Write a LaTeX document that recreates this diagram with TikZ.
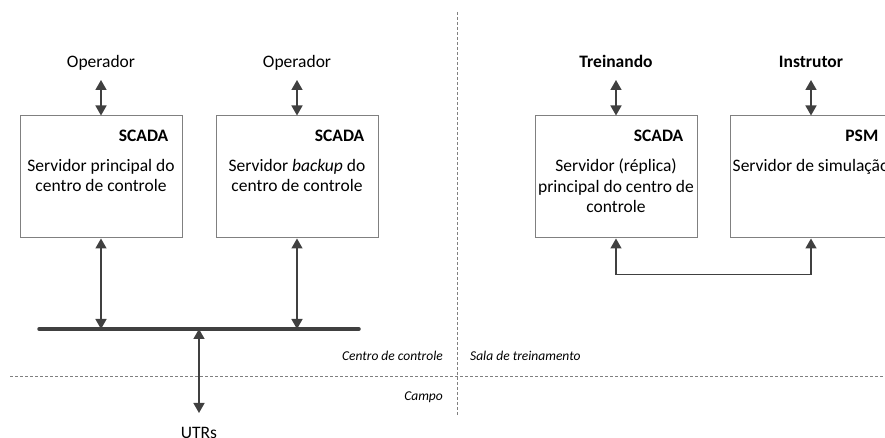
\documentclass[tikz,border=0pt]{standalone}
\usepackage{fontspec}
\setmainfont{Carlito}
\usetikzlibrary{arrows.meta}
\definecolor{linegray}{HTML}{404040}
\definecolor{boxgray}{HTML}{808080}
\begin{document}
\begin{tikzpicture}[x=1pt,y=1pt,
    server/.style={draw=boxgray, line width=1pt, minimum width=162pt, minimum height=122pt, inner sep=0pt},
    tag/.style={font=\fontsize{17.5}{20.5}\selectfont\bfseries, inner sep=0pt, anchor=north east},
    desc/.style={font=\fontsize{17.5}{20.5}\selectfont, align=center, anchor=north},
    actor/.style={font=\fontsize{17.5}{20.5}\selectfont, inner xsep=0pt, inner ysep=8pt, text depth=4pt, anchor=south},
    area/.style={font=\fontsize{13.5}{16}\selectfont\itshape, inner sep=0pt},
    link/.style={draw=linegray, line width=1.5pt, {Triangle[length=10pt,width=11pt]}-{Triangle[length=10pt,width=11pt]}},
    zone/.style={draw=boxgray, dash pattern=on 3pt off 2pt, line width=0.8pt}]
    \clip (0,0) rectangle (885,438);
    % areas
    \draw[zone] (10,62) -- (885,62);
    \draw[zone] (457,426) -- (457,23);
    \node[area, anchor=east] (cc) at (443,82) {Centro de controle};
    \node[area, anchor=west] (sala) at (470,82) {Sala de treinamento};
    \node[area, anchor=east] (campo) at (443,41) {Campo};
    % centro de controle
    \node[server] (scadaP) at (101,261) {};
    \node[server] (scadaB) at (297,261) {};
    \node[tag] (tagP) at ([shift={(-14pt,-14.5pt)}]scadaP.north east) {SCADA};
    \node[tag] (tagB) at ([shift={(-14pt,-14.5pt)}]scadaB.north east) {SCADA};
    \node[desc] (descP) at ([yshift=-40pt]scadaP.north) {Servidor principal do\\centro de controle};
    \node[desc] (descB) at ([yshift=-40pt]scadaB.north) {Servidor \textit{backup} do\\centro de controle};
    \node[actor] (op1) at (101,358) {Operador};
    \node[actor] (op2) at (297,358) {Operador};
    \draw[link] (op1) -- (scadaP);
    \draw[link] (op2) -- (scadaB);
    \draw[draw=linegray, line width=3.5pt, line cap=round] (39,109) coordinate (busL) -- (359,109) coordinate (busR);
    \draw[link] (scadaP) -- (scadaP |- busL);
    \draw[link] (scadaB) -- (scadaB |- busL);
    \node[actor, anchor=north, inner ysep=14pt] (utr) at (199,25) {UTRs};
    \draw[link] (utr |- busL) -- (utr);
    % sala de treinamento
    \node[server] (scadaR) at (616,261) {};
    \node[server] (psm) at (811,261) {};
    \node[tag] (tagR) at ([shift={(-14pt,-14.5pt)}]scadaR.north east) {SCADA};
    \node[tag] (tagS) at ([shift={(-14pt,-14.5pt)}]psm.north east) {PSM};
    \node[desc] (descR) at ([yshift=-40pt]scadaR.north) {Servidor (réplica)\\principal do centro de\\controle};
    \node[desc] (descS) at ([yshift=-40pt]psm.north) {Servidor de simulação};
    \node[actor, font=\fontsize{17.5}{20.5}\selectfont\bfseries] (trainee) at (616,358) {Treinando};
    \node[actor, font=\fontsize{17.5}{20.5}\selectfont\bfseries] (instructor) at (811,358) {Instrutor};
    \draw[link] (trainee) -- (scadaR);
    \draw[link] (instructor) -- (psm);
    \draw[link] (scadaR.south) -- ++(0,-36) -| (psm.south);
\end{tikzpicture}
\end{document}
